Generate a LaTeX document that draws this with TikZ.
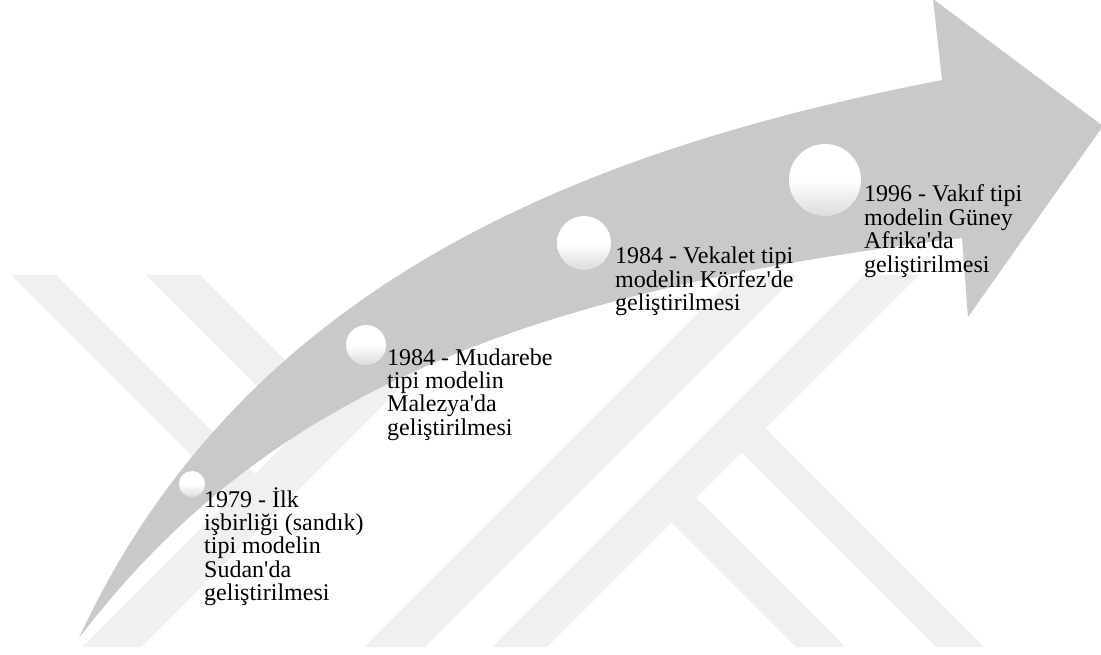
\documentclass[tikz,border=0pt]{standalone}
\usepackage{fontspec}
\setmainfont{Liberation Serif}[Ligatures=TeXOff]
\definecolor{arrowgray}{RGB}{201,201,201}
\definecolor{wmgray}{RGB}{240,240,240}
\definecolor{dotshade}{RGB}{220,220,220}
\newcommand\textlines[1]{\vtop{\lineskiplimit=-\maxdimen #1}}
\begin{document}
\begin{tikzpicture}[x=1pt,y=-1pt,
  band/.style={fill=wmgray,draw=none},
  dot/.style={circle,inner sep=0pt,draw=none,minimum size=#1,
    top color=white,bottom color=dotshade,middle color=white},
  lbl/.style={anchor=base west,inner sep=0pt,
    font=\fontsize{24}{23.4}\selectfont}]
\clip (0,0) rectangle (1101,655);
% faint background emblem
\fill[band] (11,275) -- (56,275) -- (255,474) -- (232.5,496.5) -- cycle;
\fill[band] (146,275) -- (200,275) -- (327,402) -- (300,429) -- cycle;
\fill[band] (82,647) -- (141,647) -- (513,275) -- (454,275) -- cycle;
\fill[band] (364,647) -- (425,647) -- (797,275) -- (736,275) -- cycle;
\fill[band] (492,647) -- (547,647) -- (919,275) -- (864,275) -- cycle;
\fill[band] (765.5,428.5) -- (984,647) -- (936,647) -- (741.5,452.5) -- cycle;
\fill[band] (696,498) -- (845,647) -- (796,647) -- (671.5,522.5) -- cycle;
% curved upward arrow
\fill[arrowgray] (79,638) .. controls (247,274) and (599,147) .. (942,80)
  -- (933,-1) -- (1103,126) -- (968,317) -- (962,238)
  .. controls (515,292) and (262,398) .. (79,638) -- cycle;
% milestones
\node[dot=26pt] (d1) at (192,484) {};
\node[dot=40pt] (d2) at (366,345) {};
\node[dot=54pt] (d3) at (584,243) {};
\node[dot=72pt] (d4) at (825,180) {};
\node[lbl] (t1) at (204,507) {\textlines{\hbox{1979 - İlk}\hbox{işbirliği (sandık)}\hbox{tipi modelin}\hbox{Sudan'da}\hbox{geliştirilmesi}}};
\node[lbl] (t2) at (387,365) {\textlines{\hbox{1984 - Mudarebe}\hbox{tipi modelin}\hbox{Malezya'da}\hbox{geliştirilmesi}}};
\node[lbl] (t3) at (615,264) {\textlines{\hbox{1984 - Vekalet tipi}\hbox{modelin Körfez'de}\hbox{geliştirilmesi}}};
\node[lbl] (t4) at (864,202) {\textlines{\hbox{1996 - Vakıf tipi}\hbox{modelin Güney}\hbox{Afrika'da}\hbox{geliştirilmesi}}};
\end{tikzpicture}
\end{document}
